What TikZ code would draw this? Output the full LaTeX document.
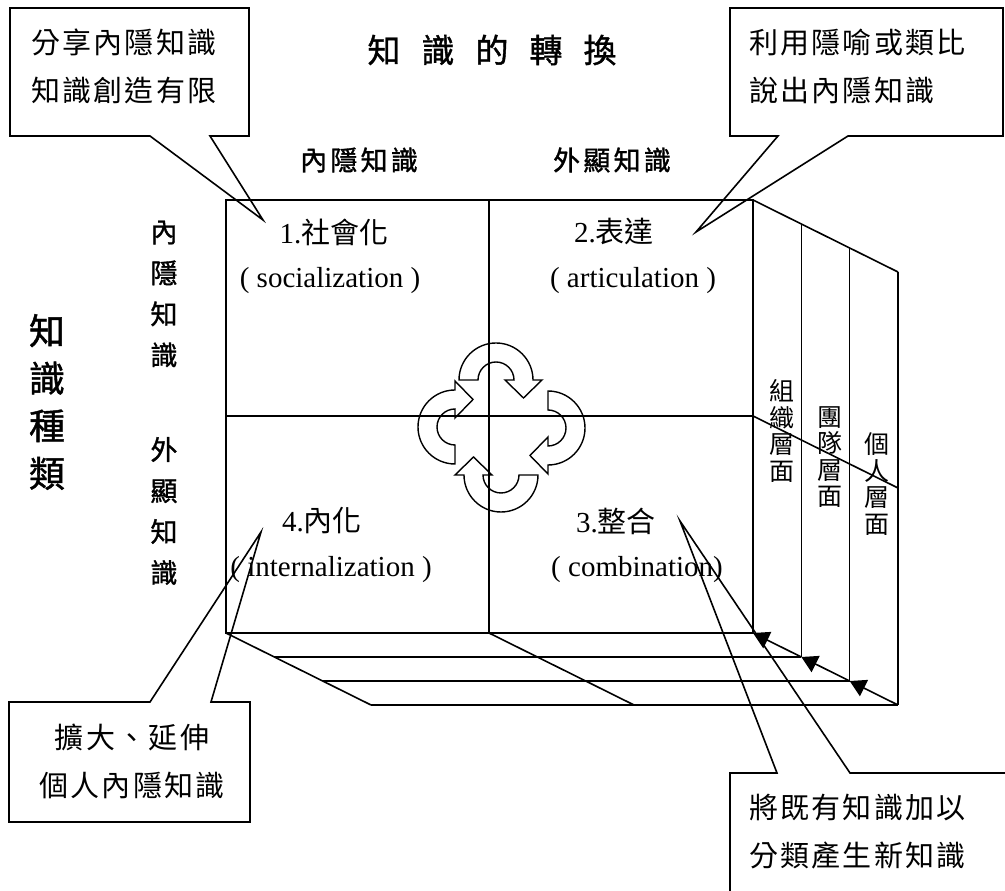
\documentclass[tikz,border=0pt]{standalone}
\usepackage{fontspec}
\setmainfont{Liberation Serif}
\newfontfamily\cjk{Noto Sans CJK TC}
\newfontfamily\cjksp[LetterSpace=8]{Noto Sans CJK TC}
\newfontfamily\cjkbold[FakeBold=1.2]{Noto Sans CJK TC}
\newfontfamily\cjkboldsp[FakeBold=1.2,LetterSpace=12]{Noto Sans CJK TC}
\usetikzlibrary{arrows.meta}
\tikzset{
  ln/.style={line width=1.6pt},
  callout/.style={draw,line width=1.6pt,line join=miter},
  t/.style={inner sep=0pt,outer sep=0pt},
  cyc/.style={draw,line width=1.4pt},
  arr/.style={-{Triangle[length=16pt,width=18pt]}},
  calltext/.style={t,align=left,font=\cjksp\fontsize{29}{48}\selectfont},
  head/.style={t,font=\cjkboldsp\fontsize{27}{27}\selectfont},
  vhead/.style={t,align=center,font=\cjkbold\fontsize{27}{41}\selectfont},
  bighead/.style={t,align=center,font=\cjkbold\fontsize{36}{47.5}\selectfont},
  lay/.style={t,align=center,font=\cjk\fontsize{25}{26.5}\selectfont},
  qcjk/.style={t,font=\fontsize{29}{29}\selectfont},
  qlat/.style={t,anchor=base,font=\fontsize{29}{29}\selectfont},
  cycarr/.pic={\draw[cyc] (-37,0) arc[start angle=180,end angle=0,radius=37] -- (46,0) -- (27.5,-18) -- (9,0) -- (18,0) arc[start angle=0,end angle=180,radius=18] -- cycle;}
}
\begin{document}
\begin{tikzpicture}[x=1pt,y=1pt]
\useasboundingbox (0,0) rectangle (1005,891);
\clip (0,0) rectangle (1005,891);

% main front face
\coordinate (A) at (226,691);
\coordinate (B) at (753,691);
\coordinate (C) at (753,258);
\coordinate (D) at (226,258);
\coordinate (Mt) at (489,691);
\coordinate (Mb) at (489,258);
\coordinate (Ml) at (226,475);
\coordinate (Mr) at (753,475);
\coordinate (R3) at (898,403);
\coordinate (E3) at (634,186);
\foreach \k in {1,2,3} {
  \coordinate (B\k) at ({753+48.33*\k},{691-24*\k});
  \coordinate (C\k) at ({753+48.33*\k},{258-24*\k});
  \coordinate (D\k) at ({226+48.33*\k},{258-24*\k});
}
\draw[ln] (A) rectangle (C);
\draw[ln] (Mt) -- (Mb);
\draw[ln] (Ml) -- (Mr);
% right face
\draw[ln] (B) -- (B3);
\foreach \k in {1,2,3} \draw[ln] (B\k) -- (C\k);
\draw[ln] (Mr) -- (R3);
% bottom face
\foreach \k in {1,2,3} \draw[ln] (D\k) -- (C\k);
\draw[ln] (D) -- (D3);
\draw[ln] (Mb) -- (E3);
\draw[ln,arr] (C3) -- (C2);
\draw[ln,arr] (C2) -- (C1);
\draw[ln,arr] (C1) -- (C);

% cycle arrows
\pic at (496,511) {cycarr};
\pic[rotate=-90] at (548,463) {cycarr};
\pic[rotate=180] at (501,416) {cycarr};
\pic[rotate=90] at (455,464) {cycarr};

% callouts
\coordinate (T1) at (263,671);
\coordinate (T2) at (696,659);
\coordinate (T3) at (261,359);
\coordinate (T4) at (680,370);
\draw[callout] (10,883) -- (249,883) -- (249,755) -- (210,755) -- (T1) -- (150,755) -- (10,755) -- cycle;
\draw[callout] (730,883) -- (1003,883) -- (1003,755) -- (848,755) -- (T2) -- (778,755) -- (730,755) -- cycle;
\draw[callout] (9,189) -- (150,189) -- (T3) -- (211,189) -- (250,189) -- (250,69) -- (9,69) -- cycle;
\draw[callout] (730,118) -- (777,118) -- (T4) -- (850,118) -- (1010,118) -- (1010,-10) -- (730,-10) -- cycle;

\node[calltext,anchor=west] (c1) at (31,824.5) {分享內隱知識\\知識創造有限};
\node[calltext,anchor=west] (c2) at (749,824.5) {利用隱喻或類比\\說出內隱知識};
\node[calltext,align=center] (c3) at (132,130) {擴大、延伸\\個人內隱知識};
\node[calltext,anchor=west] (c4) at (749,59) {將既有知識加以\\分類產生新知識};

% titles
\node[t,font=\cjkbold\fontsize{33}{33}\selectfont] (title) at (492,841) {知\hspace{21pt}識\hspace{21pt}的\hspace{21pt}轉\hspace{21pt}換};
\node[head] (h1) at (359,731) {內隱知識};
\node[head] (h2) at (612,731) {外顯知識};
\node[vhead] (v1) at (164,597) {內\\隱\\知\\識};
\node[vhead] (v2) at (164,380) {外\\顯\\知\\識};
\node[bighead] (v3) at (47,489) {知\\識\\種\\類};

% quadrant labels
\node[qcjk] (q1a) at (334,659) {1.{\cjk 社會化}};
\node[qlat] (q1b) at (330,603) {( socialization )};
\node[qcjk] (q2a) at (614,659) {2.{\cjk 表達}};
\node[qlat] (q2b) at (633,603) {( articulation )};
\node[qcjk] (q4a) at (322,370) {4.{\cjk 內化}};
\node[qlat] (q4b) at (331,314) {( internalization )};
\node[qcjk] (q3a) at (616,370) {3.{\cjk 整合}};
\node[qlat] (q3b) at (637,314) {( combination)};

% layer labels
\node[lay] (l1) at (782,460) {組\\織\\層\\面};
\node[lay] (l2) at (830,434) {團\\隊\\層\\面};
\node[lay] (l3) at (877,407) {個\\人\\層\\面};
\end{tikzpicture}
\end{document}
